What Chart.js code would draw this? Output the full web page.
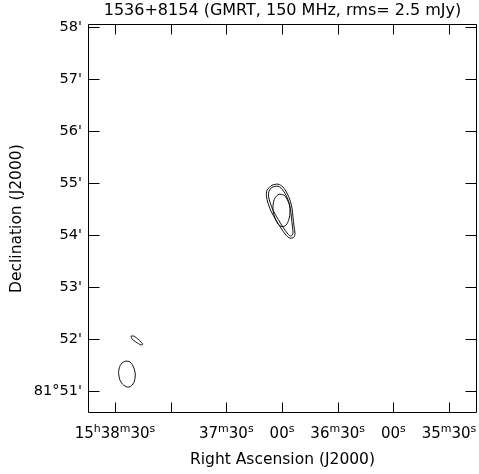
<!DOCTYPE html>
<html>
<head>
<meta charset="utf-8">
<script src="https://cdn.jsdelivr.net/npm/chart.js@4/dist/chart.umd.min.js"></script>
<style>
  html, body { margin: 0; padding: 0; background: #fff; }
  #wrap { width: 479px; height: 474px; position: relative; }
</style>
</head>
<body>
<div id="wrap"><canvas id="c"></canvas></div>
<script>
// RA given as seconds of time relative to 15h36m00s; Dec as arcminutes past 81°00'
const raTicks = [150, 120, 90, 60, 30, 0, -30];
const raTickLabels = ['15ʰ38ᵐ30ˢ', '', '37ᵐ30ˢ', '00ˢ', '36ᵐ30ˢ', '00ˢ', '35ᵐ30ˢ'];
const decTicks = [51, 52, 53, 54, 55, 56, 57, 58];
const decTickLabels = ["81°51'", "52'", "53'", "54'", "55'", "56'", "57'", "58'"];
const raRange = [-45.09, 164.55];
const decRange = [50.577, 58.058];

// contour levels of the source (RA s, Dec ')
const contourOuterA = [
  [65.39,54.962],[62.16,54.981],[59.46,54.923],[57.31,54.808],[55.69,54.673],[54.61,54.519],
  [54.07,54.346],[53.53,54.173],[53.00,54.038],[53.53,53.962],[55.69,53.942],[57.85,54.000],
  [60.54,54.135],[63.23,54.288],[65.93,54.462],[67.55,54.615],[68.36,54.750],[68.09,54.865],
  [65.39,54.962]
];
const contourOuterB = [
  [65.39,54.923],[62.16,54.942],[60.00,54.885],[57.85,54.769],[56.50,54.654],[55.42,54.500],
  [54.88,54.327],[54.34,54.154],[54.07,54.038],[55.15,53.981],[56.77,54.019],[59.46,54.154],
  [62.16,54.308],[64.85,54.481],[66.47,54.635],[67.28,54.750],[67.01,54.846],[65.39,54.923]
];
const contourInner = [
  [61.62,54.788],[58.92,54.769],[57.31,54.692],[55.96,54.577],[55.69,54.442],[56.23,54.308],
  [57.85,54.192],[60.00,54.163],[62.16,54.212],[63.77,54.327],[64.85,54.481],[64.58,54.635],
  [63.50,54.731],[61.62,54.788]
];
const contourSpur = [
  [141.38,52.058],[139.76,52.058],[137.07,51.981],[134.91,51.904],[135.99,51.885],
  [138.68,51.942],[140.84,52.000],[141.38,52.058]
];
const beam = [
  [144.07,51.577],[141.92,51.558],[140.30,51.481],[139.22,51.365],[139.22,51.250],[140.30,51.135],
  [142.46,51.077],[144.61,51.096],[146.77,51.173],[147.84,51.288],[147.84,51.423],[146.23,51.538],[144.07,51.577]
];

const FONT = "'DejaVu Sans', sans-serif";
const toPts = arr => arr.map(p => ({x: p[0], y: p[1]}));
const lineDs = (data, tension) => ({
  data: toPts(data), showLine: true, pointRadius: 0, borderColor: '#111',
  borderWidth: 1, tension: tension, fill: false
});

const SUP = {'ʰ': 'h', 'ᵐ': 'm', 'ˢ': 's'};

const frameTicks = {
  id: 'frameTicks',
  afterDatasetsDraw(chart) {
    const {ctx, chartArea: a, scales: {x, y}} = chart;
    ctx.save();
    ctx.strokeStyle = '#000';
    ctx.lineWidth = 1;
    const L = Math.round(a.left) + 0.5, R = Math.round(a.right) - 0.5;
    const T = Math.round(a.top) + 0.5, B = Math.round(a.bottom) - 0.5;
    ctx.beginPath();
    ctx.rect(L, T, R - L, B - T);
    x.ticks.forEach(t => {
      const px = Math.round(x.getPixelForValue(t.value)) + 0.5;
      ctx.moveTo(px, B); ctx.lineTo(px, B - 10);
      ctx.moveTo(px, T); ctx.lineTo(px, T + 10);
    });
    y.ticks.forEach(t => {
      const py = Math.round(y.getPixelForValue(t.value)) + 0.5;
      ctx.moveTo(L, py); ctx.lineTo(L + 11, py);
      ctx.moveTo(R, py); ctx.lineTo(R - 11, py);
    });
    ctx.stroke();

    // RA tick labels with raised h/m/s
    const big = "15px " + FONT, small = "11px " + FONT;
    ctx.fillStyle = '#000';
    ctx.textBaseline = 'alphabetic';
    ctx.textAlign = 'left';
    const baseY = a.bottom + 25;
    x.ticks.forEach((t, i) => {
      const label = raTickLabels[i] || '';
      if (!label) return;
      const segs = [];
      for (const ch of label) {
        const sup = SUP[ch] !== undefined;
        const c = sup ? SUP[ch] : ch;
        const last = segs[segs.length - 1];
        if (last && last.sup === sup) last.text += c; else segs.push({text: c, sup});
      }
      let w = 0;
      segs.forEach(s => { ctx.font = s.sup ? small : big; s.w = ctx.measureText(s.text).width; w += s.w; });
      let cx = x.getPixelForValue(t.value) - w / 2;
      segs.forEach(s => {
        ctx.font = s.sup ? small : big;
        ctx.fillText(s.text, cx, s.sup ? baseY - 6 : baseY);
        cx += s.w;
      });
    });
    ctx.restore();
  }
};

new Chart(document.getElementById('c'), {
  type: 'scatter',
  data: {
    datasets: [
      lineDs(contourOuterA, 0.3),
      lineDs(contourOuterB, 0.3),
      lineDs(contourInner, 0.3),
      lineDs(contourSpur, 0.1),
      lineDs(beam, 0.4)
    ]
  },
  options: {
    responsive: true,
    maintainAspectRatio: false,
    animation: false,
    layout: { padding: { left: 0, right: 2, top: 0, bottom: 0 } },
    plugins: {
      legend: { display: false },
      tooltip: { enabled: false },
      title: {
        display: true,
        fullSize: false,
        text: '1536+8154 (GMRT, 150 MHz, rms= 2.5 mJy)',
        color: '#000',
        font: { family: FONT, size: 16, weight: 'normal', lineHeight: 1.2 },
        padding: { top: 1, bottom: 4 },
        align: 'center'
      }
    },
    scales: {
      x: {
        type: 'linear', reverse: true, min: raRange[0], max: raRange[1],
        afterBuildTicks: s => { s.ticks = raTicks.map(v => ({value: v})); },
        afterFit: s => { s.height = 61; s.paddingLeft = 0; s.paddingRight = 0; },
        grid: { display: false, drawTicks: false },
        border: { display: false },
        ticks: {
          color: 'rgba(0,0,0,0)', padding: 11, maxRotation: 0, autoSkip: false,
          font: { family: FONT, size: 15 },
          callback: (v, i) => raTickLabels[i]
        },
        title: {
          display: true, text: 'Right Ascension (J2000)', color: '#000',
          font: { family: FONT, size: 15.5, lineHeight: 1.2 },
          padding: { top: 0, bottom: 5 }
        }
      },
      y: {
        type: 'linear', min: decRange[0], max: decRange[1],
        afterBuildTicks: s => { s.ticks = decTicks.map(v => ({value: v})); },
        afterFit: s => { s.width = 88; s.paddingTop = 0; s.paddingBottom = 0; },
        grid: { display: false, drawTicks: false },
        border: { display: false },
        ticks: {
          color: '#000', padding: 6, autoSkip: false,
          font: { family: FONT, size: 14.5 },
          callback: (v, i) => decTickLabels[i]
        },
        title: {
          display: true, text: 'Declination (J2000)', color: '#000',
          font: { family: FONT, size: 15.5, lineHeight: 1.2 },
          padding: { top: 8, bottom: 0 }
        }
      }
    }
  },
  plugins: [frameTicks]
});
</script>
</body>
</html>
